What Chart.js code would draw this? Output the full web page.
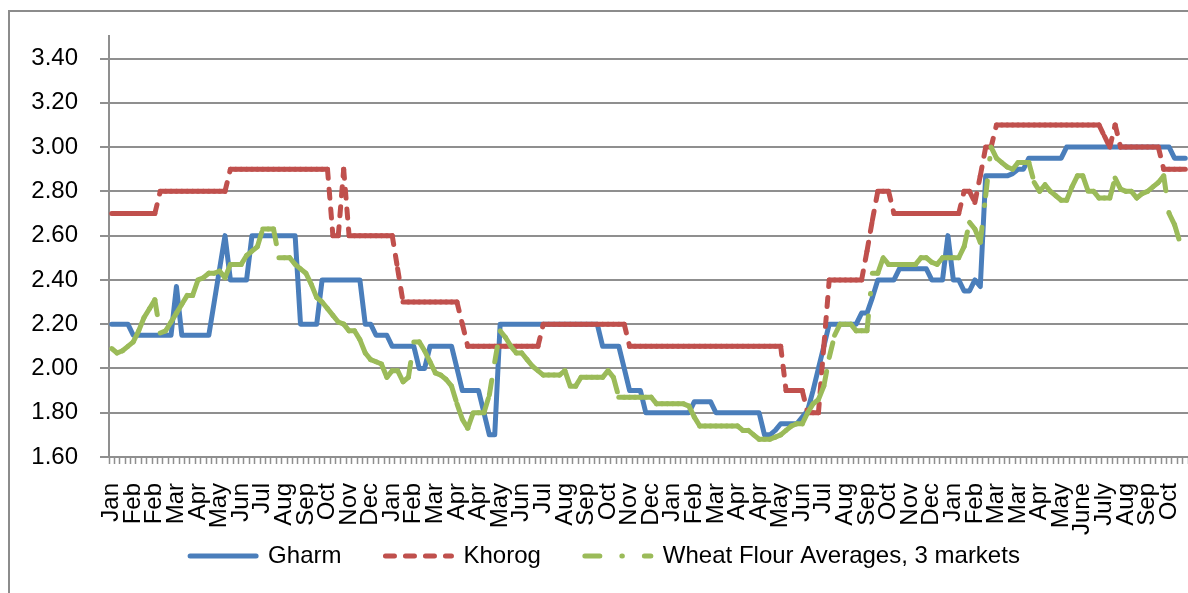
<!DOCTYPE html>
<html>
<head>
<meta charset="utf-8">
<title>Wheat flour prices</title>
<script src="https://cdn.jsdelivr.net/npm/chart.js@4.4.1/dist/chart.umd.min.js"></script>
<style>
  html, body { margin: 0; padding: 0; background: #fff; overflow: hidden; }
  #wrap { position: relative; width: 1188px; height: 593px; overflow: hidden; }
  #frame { position: absolute; left: 8px; top: 10px; width: 1300px; height: 700px; border: 2px solid #8c8c8c; }
  #chart { position: absolute; left: 0; top: 0; }
</style>
</head>
<body>
<div id="wrap">
  <div id="frame"></div>
  <canvas id="chart" width="1188" height="593"></canvas>
</div>
<script>
// Month labels, one for every 4th weekly observation
const tickLabels = [
  'Jan', 'Feb', 'Feb', 'Mar', 'Apr', 'May', 'Jun', 'Jul', 'Aug', 'Sep', 'Oct', 'Nov', 'Dec',
  'Jan', 'Feb', 'Mar', 'Apr', 'Apr', 'May', 'Jun', 'Jul', 'Aug', 'Sep', 'Oct', 'Nov', 'Dec',
  'Jan', 'Feb', 'Mar', 'Apr', 'Apr', 'May', 'Jun', 'Jul', 'Aug', 'Sep', 'Oct', 'Nov', 'Dec',
  'Jan', 'Feb', 'Mar', 'Mar', 'Apr', 'May', 'June', 'July', 'Aug', 'Sep', 'Oct'
];

const seriesNames = ['Gharm', 'Khorog', 'Wheat Flour Averages, 3 markets'];

// Weekly prices (200 weeks)
const gharm = [
  2.20, 2.20, 2.20, 2.20, 2.15, 2.15, 2.15, 2.15, 2.15, 2.15, 2.15, 2.15, 2.37, 2.15, 2.15, 2.15, 2.15, 2.15, 2.15, 2.30,
  2.45, 2.60, 2.40, 2.40, 2.40, 2.40, 2.60, 2.60, 2.60, 2.60, 2.60, 2.60, 2.60, 2.60, 2.60, 2.20, 2.20, 2.20, 2.20, 2.40,
  2.40, 2.40, 2.40, 2.40, 2.40, 2.40, 2.40, 2.20, 2.20, 2.15, 2.15, 2.15, 2.10, 2.10, 2.10, 2.10, 2.10, 2.00, 2.00, 2.10,
  2.10, 2.10, 2.10, 2.10, 2.00, 1.90, 1.90, 1.90, 1.90, 1.80, 1.70, 1.70, 2.20, 2.20, 2.20, 2.20, 2.20, 2.20, 2.20, 2.20,
  2.20, 2.20, 2.20, 2.20, 2.20, 2.20, 2.20, 2.20, 2.20, 2.20, 2.20, 2.10, 2.10, 2.10, 2.10, 2.00, 1.90, 1.90, 1.90, 1.80,
  1.80, 1.80, 1.80, 1.80, 1.80, 1.80, 1.80, 1.80, 1.85, 1.85, 1.85, 1.85, 1.80, 1.80, 1.80, 1.80, 1.80, 1.80, 1.80, 1.80,
  1.80, 1.70, 1.70, 1.72, 1.75, 1.75, 1.75, 1.75, 1.78, 1.81, 1.90, 2.00, 2.10, 2.20, 2.20, 2.20, 2.20, 2.20, 2.20, 2.25,
  2.25, 2.32, 2.40, 2.40, 2.40, 2.40, 2.45, 2.45, 2.45, 2.45, 2.45, 2.45, 2.40, 2.40, 2.40, 2.60, 2.40, 2.40, 2.35, 2.35,
  2.40, 2.37, 2.87, 2.87, 2.87, 2.87, 2.87, 2.88, 2.90, 2.90, 2.95, 2.95, 2.95, 2.95, 2.95, 2.95, 2.95, 3.00, 3.00, 3.00,
  3.00, 3.00, 3.00, 3.00, 3.00, 3.00, 3.00, 3.00, 3.00, 3.00, 3.00, 3.00, 3.00, 3.00, 3.00, 3.00, 3.00, 2.95, 2.95, 2.95
];

const khorog = [
  2.70, 2.70, 2.70, 2.70, 2.70, 2.70, 2.70, 2.70, 2.70, 2.80, 2.80, 2.80, 2.80, 2.80, 2.80, 2.80, 2.80, 2.80, 2.80, 2.80,
  2.80, 2.80, 2.90, 2.90, 2.90, 2.90, 2.90, 2.90, 2.90, 2.90, 2.90, 2.90, 2.90, 2.90, 2.90, 2.90, 2.90, 2.90, 2.90, 2.90,
  2.90, 2.60, 2.60, 2.90, 2.60, 2.60, 2.60, 2.60, 2.60, 2.60, 2.60, 2.60, 2.60, 2.45, 2.30, 2.30, 2.30, 2.30, 2.30, 2.30,
  2.30, 2.30, 2.30, 2.30, 2.30, 2.20, 2.10, 2.10, 2.10, 2.10, 2.10, 2.10, 2.10, 2.10, 2.10, 2.10, 2.10, 2.10, 2.10, 2.10,
  2.20, 2.20, 2.20, 2.20, 2.20, 2.20, 2.20, 2.20, 2.20, 2.20, 2.20, 2.20, 2.20, 2.20, 2.20, 2.20, 2.10, 2.10, 2.10, 2.10,
  2.10, 2.10, 2.10, 2.10, 2.10, 2.10, 2.10, 2.10, 2.10, 2.10, 2.10, 2.10, 2.10, 2.10, 2.10, 2.10, 2.10, 2.10, 2.10, 2.10,
  2.10, 2.10, 2.10, 2.10, 2.10, 1.90, 1.90, 1.90, 1.90, 1.80, 1.80, 1.80, 2.10, 2.40, 2.40, 2.40, 2.40, 2.40, 2.40, 2.40,
  2.53, 2.67, 2.80, 2.80, 2.80, 2.70, 2.70, 2.70, 2.70, 2.70, 2.70, 2.70, 2.70, 2.70, 2.70, 2.70, 2.70, 2.70, 2.80, 2.80,
  2.75, 2.87, 3.00, 3.00, 3.10, 3.10, 3.10, 3.10, 3.10, 3.10, 3.10, 3.10, 3.10, 3.10, 3.10, 3.10, 3.10, 3.10, 3.10, 3.10,
  3.10, 3.10, 3.10, 3.10, 3.05, 3.00, 3.10, 3.00, 3.00, 3.00, 3.00, 3.00, 3.00, 3.00, 3.00, 2.90, 2.90, 2.90, 2.90, 2.90
];

const wheatAvg = [
  2.09, 2.07, 2.08, 2.10, 2.12, 2.17, 2.23, 2.27, 2.31, 2.16, 2.17, 2.21, 2.25, 2.29, 2.33, 2.33, 2.40, 2.41, 2.43, 2.43,
  2.44, 2.41, 2.47, 2.47, 2.47, 2.51, 2.53, 2.55, 2.63, 2.63, 2.63, 2.50, 2.50, 2.50, 2.47, 2.45, 2.43, 2.38, 2.32, 2.30,
  2.27, 2.24, 2.21, 2.20, 2.17, 2.17, 2.13, 2.07, 2.04, 2.03, 2.02, 1.96, 1.99, 1.99, 1.94, 1.96, 2.12, 2.12, 2.08, 2.03,
  1.98, 1.97, 1.95, 1.92, 1.84, 1.77, 1.73, 1.80, 1.80, 1.80, 1.88, 2.03, 2.17, 2.14, 2.10, 2.07, 2.07, 2.04, 2.01, 1.99,
  1.97, 1.97, 1.97, 1.97, 1.99, 1.92, 1.92, 1.96, 1.96, 1.96, 1.96, 1.96, 1.99, 1.96, 1.87, 1.87, 1.87, 1.87, 1.87, 1.87,
  1.87, 1.84, 1.84, 1.84, 1.84, 1.84, 1.84, 1.83, 1.78, 1.74, 1.74, 1.74, 1.74, 1.74, 1.74, 1.74, 1.74, 1.72, 1.72, 1.70,
  1.68, 1.68, 1.68, 1.69, 1.70, 1.72, 1.74, 1.75, 1.75, 1.80, 1.84, 1.86, 1.92, 2.05, 2.15, 2.20, 2.20, 2.20, 2.17, 2.17,
  2.17, 2.43, 2.43, 2.50, 2.47, 2.47, 2.47, 2.47, 2.47, 2.47, 2.50, 2.50, 2.48, 2.47, 2.50, 2.50, 2.50, 2.50, 2.55, 2.66,
  2.63, 2.57, 2.78, 3.00, 2.95, 2.93, 2.91, 2.90, 2.93, 2.93, 2.93, 2.84, 2.80, 2.83, 2.80, 2.78, 2.76, 2.76, 2.82, 2.87,
  2.87, 2.80, 2.80, 2.77, 2.77, 2.77, 2.86, 2.81, 2.80, 2.80, 2.77, 2.79, 2.80, 2.82, 2.84, 2.87, 2.70, 2.65, 2.57, null
];

// One category per week, month name on every 4th
const weeks = gharm.map((v, i) => (i % 4 === 0 ? tickLabels[i / 4] : ''));

const FONT = 'Liberation Sans';
const GRID = '#8f8f8f';

// Excel restarts the dash pattern on every segment; alternating a tiny
// dash offset makes Chart.js stroke each segment as its own path.
const perSegmentDash = (dash) => ({
  borderDash: dash,
  borderDashOffset: (ctx) => (ctx.p0DataIndex % 2 ? 0.001 : 0)
});

// The month labels hang below the (short) x axis box, so don't clip them to it
const noLabelClip = {
  id: 'noLabelClip',
  beforeDraw(c) {
    c.scales.x._computeLabelArea = () => undefined;
  }
};

const chart = new Chart(document.getElementById('chart'), {
  type: 'line',
  data: {
    labels: weeks,
    datasets: [
      {
        label: seriesNames[0],
        data: gharm,
        borderColor: '#4a7ebb',
        backgroundColor: '#4a7ebb',
        borderWidth: 5,
        borderCapStyle: 'round',
        borderJoinStyle: 'round',
        order: 2
      },
      {
        label: seriesNames[1],
        data: khorog,
        borderColor: '#c0504d',
        backgroundColor: '#c0504d',
        borderWidth: 5,
        borderDash: [9, 11],
        borderCapStyle: 'round',
        borderJoinStyle: 'round',
        segment: perSegmentDash([9, 11]),
        order: 1
      },
      {
        label: seriesNames[2],
        data: wheatAvg,
        borderColor: '#9bbb59',
        backgroundColor: '#9bbb59',
        borderWidth: 5,
        borderDash: [15, 22, 0.5, 22],
        borderCapStyle: 'round',
        borderJoinStyle: 'round',
        segment: perSegmentDash([15, 22, 0.5, 22]),
        order: 0
      }
    ]
  },
  plugins: [noLabelClip],
  options: {
    responsive: false,
    animation: false,
    layout: { padding: { top: 35, left: 22, right: 0, bottom: 15 } },
    elements: { point: { radius: 0, hoverRadius: 0 }, line: { tension: 0, fill: false } },
    plugins: {
      tooltip: { enabled: false },
      legend: {
        position: 'bottom',
        labels: {
          usePointStyle: true,
          pointStyle: 'line',
          pointStyleWidth: 66,
          padding: 44,
          color: '#000',
          font: { family: FONT, size: 24 },
          // draw the sample as the series line, left to right
          generateLabels: (c) =>
            Chart.defaults.plugins.legend.labels.generateLabels(c).map((item) => {
              const ds = c.data.datasets[item.datasetIndex];
              return Object.assign(item, {
                strokeStyle: ds.borderColor,
                fillStyle: ds.borderColor,
                lineWidth: ds.borderWidth,
                lineDash: ds.borderDash || [],
                lineCap: 'round',
                pointStyle: 'line',
                rotation: 180
              });
            }),
          sort: (a, b) => a.datasetIndex - b.datasetIndex
        }
      }
    },
    scales: {
      x: {
        type: 'category',
        offset: true,
        afterFit: (s) => {
          s.height = 43;
          s.paddingLeft = 0;
          s.paddingRight = 0;
        },
        grid: {
          offset: true,
          drawOnChartArea: false,
          tickLength: 7,
          tickColor: GRID,
          tickWidth: 1.5
        },
        border: { color: GRID, width: 2 },
        ticks: {
          autoSkip: false,
          maxRotation: 90,
          minRotation: 90,
          padding: 19,
          color: '#000',
          font: { family: FONT, size: 24 }
        }
      },
      y: {
        min: 1.6,
        max: 3.5,
        afterFit: (s) => { s.width = 87; },
        grid: { color: GRID, lineWidth: 2, tickLength: 9 },
        border: { color: GRID, width: 2 },
        ticks: {
          stepSize: 0.2,
          includeBounds: false,
          padding: 22,
          color: '#000',
          font: { family: FONT, size: 24 },
          callback: (v) => Number(v).toFixed(2)
        }
      }
    }
  }
});
</script>
</body>
</html>
